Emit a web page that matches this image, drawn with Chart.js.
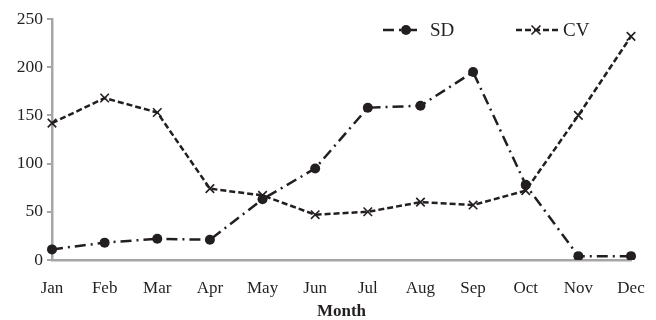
<!DOCTYPE html>
<html>
<head>
<meta charset="utf-8">
<script src="https://cdn.jsdelivr.net/npm/chart.js@4/dist/chart.umd.min.js"></script>
<style>
  html, body { margin: 0; padding: 0; background: #fff; }
  #wrap { width: 656px; height: 320px; position: relative; }
</style>
</head>
<body>
<div id="wrap"><canvas id="c" width="656" height="320"></canvas></div>
<script>
const months = ['Jan', 'Feb', 'Mar', 'Apr', 'May', 'Jun', 'Jul', 'Aug', 'Sep', 'Oct', 'Nov', 'Dec'];
const sdValues = [11, 18, 22, 21, 63, 95, 158, 160, 195, 78, 4, 4];
const cvValues = [142, 168, 153, 74, 67, 47, 50, 60, 57, 72, 150, 232];
const yTicks = [0, 50, 100, 150, 200, 250];

const ink = '#231f20';
const axisGray = '#a6a6a6';
const serif = '"Liberation Serif", "Times New Roman", serif';

const sdDash = [11, 5, 2, 5];
const cvDash = [6, 3];

// Hand-drawn legend: line sample with marker, then the series name
const legendPlugin = {
  id: 'lineLegend',
  afterDraw(chart) {
    const ctx = chart.ctx;
    const items = [
      { label: 'SD', x0: 383, x1: 421, mx: 406, dash: sdDash, marker: 'dot', tx: 430 },
      { label: 'CV', x0: 516, x1: 560, mx: 536, dash: cvDash, marker: 'cross', tx: 563 }
    ];
    const y = 30;
    ctx.save();
    items.forEach(it => {
      ctx.strokeStyle = ink;
      ctx.lineWidth = 2.5;
      ctx.setLineDash(it.dash);
      ctx.beginPath();
      ctx.moveTo(it.x0, y);
      ctx.lineTo(it.x1, y);
      ctx.stroke();
      ctx.setLineDash([]);
      if (it.marker === 'dot') {
        ctx.fillStyle = ink;
        ctx.beginPath();
        ctx.arc(it.mx, y, 5, 0, Math.PI * 2);
        ctx.fill();
      } else {
        ctx.lineWidth = 1.6;
        const r = 4.5;
        ctx.beginPath();
        ctx.moveTo(it.mx - r, y - r); ctx.lineTo(it.mx + r, y + r);
        ctx.moveTo(it.mx + r, y - r); ctx.lineTo(it.mx - r, y + r);
        ctx.stroke();
      }
      ctx.fillStyle = ink;
      ctx.font = '19px ' + serif;
      ctx.textBaseline = 'middle';
      ctx.textAlign = 'left';
      ctx.fillText(it.label, it.tx, y + 1);
    });
    ctx.restore();
  }
};

new Chart(document.getElementById('c'), {
  type: 'line',
  data: {
    labels: months,
    datasets: [
      {
        label: 'SD',
        data: sdValues,
        borderColor: ink,
        backgroundColor: ink,
        borderWidth: 2.5,
        borderDash: sdDash,
        pointStyle: 'circle',
        pointRadius: 5,
        pointBorderWidth: 0,
        pointBackgroundColor: ink,
        tension: 0
      },
      {
        label: 'CV',
        data: cvValues,
        borderColor: ink,
        backgroundColor: ink,
        borderWidth: 2.5,
        borderDash: cvDash,
        pointStyle: 'crossRot',
        pointRadius: 6,
        pointBorderWidth: 1.6,
        pointBorderColor: ink,
        tension: 0
      }
    ]
  },
  options: {
    responsive: false,
    animation: false,
    devicePixelRatio: 1,
    layout: { padding: { top: 19, right: 25, left: 0, bottom: 0 } },
    plugins: {
      legend: { display: false },
      tooltip: { enabled: false }
    },
    scales: {
      x: {
        offset: false,
        grid: { display: false, drawOnChartArea: false, drawTicks: true, tickLength: 5, color: axisGray, lineWidth: 2 },
        border: { display: true, color: axisGray, width: 2.5 },
        ticks: { color: ink, font: { family: serif, size: 17 }, padding: 13, maxRotation: 0, autoSkip: false },
        title: { display: true, text: 'Month', color: ink, font: { family: serif, size: 17, weight: 'bold', lineHeight: 1 }, padding: { top: 0, bottom: 0 } },
        afterFit(scale) {
          scale.height = 60;
          scale.paddingLeft = 0;
          scale.paddingRight = 0;
        }
      },
      y: {
        min: 0,
        max: 250,
        afterBuildTicks(scale) { scale.ticks = yTicks.map(v => ({ value: v })); },
        grid: { display: true, drawOnChartArea: false, drawTicks: true, tickLength: 5, color: axisGray, lineWidth: 2 },
        border: { display: true, color: axisGray, width: 2.5 },
        ticks: { color: ink, font: { family: serif, size: 17.5 }, padding: 4 },
        afterFit(scale) { scale.width = 52; }
      }
    }
  },
  plugins: [legendPlugin]
});
</script>
</body>
</html>
